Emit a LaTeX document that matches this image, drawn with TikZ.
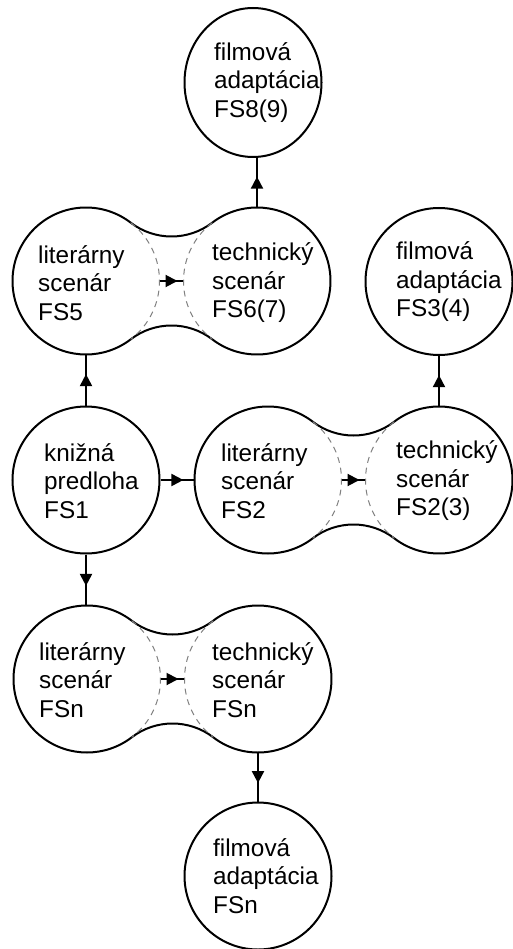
\documentclass[tikz,border=0pt]{standalone}
\usepackage{fontspec}
\setmainfont{Liberation Sans}
\usetikzlibrary{arrows.meta,decorations.markings,shapes.geometric}
\newcommand\mybubble[2]{%
  \path[outline] (#1.center) ++(\nth:\lobeR)
    arc[start angle=\nth,end angle=360-\nth,radius=\lobeR]
    arc[start angle=180-\nth,end angle=\nth,radius=\neckR]
    arc[start angle=180+\nth,end angle=540-\nth,radius=\lobeR]
    arc[start angle=-\nth,end angle=\nth-180,radius=\neckR] -- cycle;
  \draw[hidden] (#1.center) ++(\nth:\lobeR) arc[start angle=\nth,end angle=-\nth,radius=\lobeR];
  \draw[hidden] (#2.center) ++(180-\nth:\lobeR) arc[start angle=180-\nth,end angle=180+\nth,radius=\lobeR];
}
\begin{document}
\begin{tikzpicture}[x=1pt,y=1pt,
  lobe/.style={circle,minimum size=147pt,inner sep=0pt,draw=none},
  ring/.style={circle,minimum size=147pt,inner sep=0pt,draw,line width=2pt},
  txt/.style={anchor=west,inner sep=0pt,align=left,font=\fontsize{24.3}{28.5}\selectfont},
  outline/.style={draw,line width=2pt,line join=round},
  hidden/.style={draw=black!50,line width=1pt,dash pattern=on 6pt off 5pt},
  conn/.style={line width=2pt,postaction={decorate},
    decoration={markings,mark=at position 0.5 with {\pgftransformxshift{6pt}\arrow{Triangle[length=12pt,width=12pt]}}}},
]
\pgfmathsetmacro\lobeR{73.5}
\pgfmathsetmacro\halfd{85.5}
\pgfmathsetmacro\neckdep{29}
\pgfmathsetmacro\neckR{(\halfd*\halfd+(\lobeR-\neckdep)^2-\lobeR*\lobeR)/(2*\neckdep)}
\pgfmathsetmacro\nth{acos(\halfd/(\lobeR+\neckR))}

\fill[white] (0,0) rectangle (512,-949);
\useasboundingbox (0,0) rectangle (512,-949);

% single circles
\node[ellipse,minimum width=137pt,minimum height=149pt,inner sep=0pt,draw,line width=2pt] (top) at (253,-82.5) {};
\node[txt] (topt) at (214,-82.5) {filmová\\adaptácia\\FS8(9)};

\node[ring] (fsthree) at (439,-281.5) {};
\node[txt] (fsthreet) at (396,-282) {filmová\\adaptácia\\FS3(4)};

\node[ring] (fsone) at (86,-480) {};
\node[txt] (fsonet) at (44,-481) {knižná\\predloha\\FS1};

\node[ring] (bottom) at (258,-876) {};
\node[txt] (bottomt) at (213,-876) {filmová\\adaptácia\\FSn};

% bubbles
\node[lobe] (fsfive) at (86,-281) {};
\node[lobe] (fssix) at (257,-281) {};
\mybubble{fsfive}{fssix}
\node[txt] (fsfivet) at (38,-283) {literárny\\scenár\\FS5};
\node[txt] (fssixt) at (212,-283) {technický\\scenár\\FS6(7)};

\node[lobe] (fstwol) at (268,-480) {};
\node[lobe] (fstwor) at (439,-480) {};
\mybubble{fstwol}{fstwor}
\node[txt] (fstwolt) at (221,-481) {literárny\\scenár\\FS2};
\node[txt] (fstwort) at (396,-481) {technický\\scenár\\FS2(3)};

\node[lobe] (fsnl) at (87,-679) {};
\node[lobe] (fsnr) at (258,-679) {};
\mybubble{fsnl}{fsnr}
\node[txt] (fsnlt) at (39,-680) {literárny\\scenár\\FSn};
\node[txt] (fsnrt) at (212,-680) {technický\\scenár\\FSn};

% connectors
\draw[conn] (fsone.north) -- (fsfive.south);
\draw[conn] (fssix.north) -- (fssix.north |- top.south);
\draw[conn] (fsone.east) -- (fstwol.west);
\draw[conn] (fstwor.north) -- (fsthree.south);
\draw[conn] (fsone.south) -- (fsone.south |- fsnl.north);
\draw[conn] (fsnr.south) -- (fsnr.south |- bottom.north);
\draw[conn] (fsfive.east) -- (fssix.west);
\draw[conn] (fstwol.east) -- (fstwor.west);
\draw[conn] (fsnl.east) -- (fsnr.west);
\end{tikzpicture}
\end{document}
